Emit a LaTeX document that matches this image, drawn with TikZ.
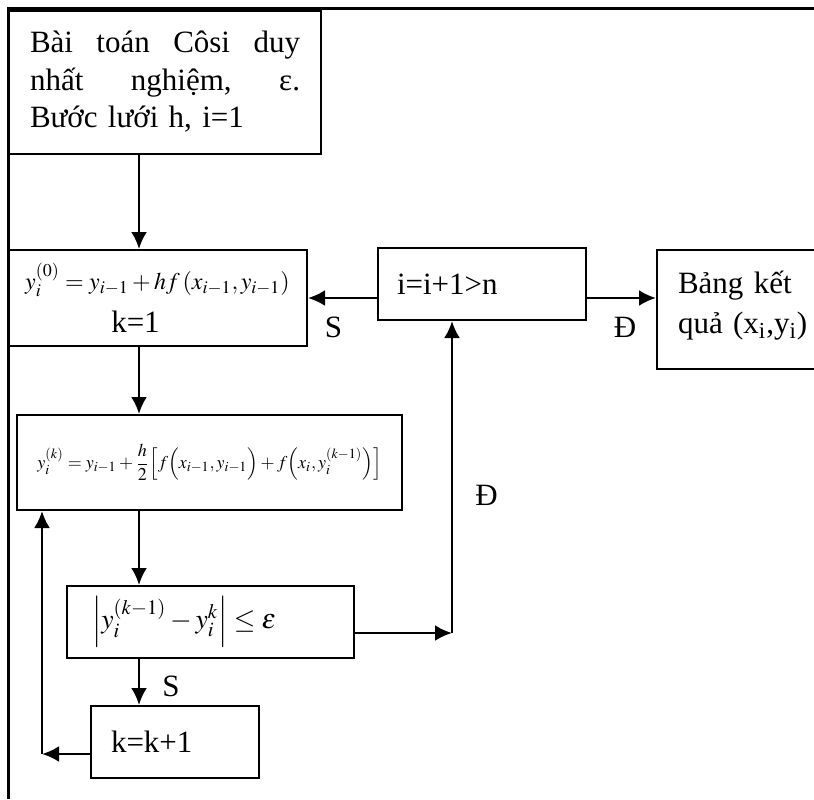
\documentclass[tikz,border=0pt]{standalone}
\usepackage{amsmath}
\usepackage{mathptmx}
\usepackage{fontspec}
\setmainfont{Liberation Serif}
\newfontfamily\vnfont{Liberation Serif}
\usetikzlibrary{arrows.meta}

\begin{document}
\begin{tikzpicture}[
        x=0.5pt, y=-0.5pt,
        >={Latex[length=8.5pt,width=8pt]},
        font=\vnfont\fontsize{15.5}{18.75}\selectfont,
        box/.style={
            draw,
            line width=1pt,
            inner sep=0pt,
            align=left
        },
        link/.style={->, line width=1.35pt},
        tag/.style={inner sep=1pt}
    ]
        \useasboundingbox (0,0) rectangle (814,799);
        % khung bang
        \draw[line width=1.5pt] (8,799) -- (8,8) -- (814,8);

        \node[box, minimum width=156pt, minimum height=71.5pt, text width=135pt] (start) at (165,82)
            {Bài\hfill toán\hfill Côsi\hfill duy\\ nhất\hfill nghiệm,\hfill ε.\\ Bước lưới h, i=1};
        \node[box, align=center, minimum width=149.5pt, minimum height=48pt] (init) at (157.5,298)
            {{\fontsize{12}{14}\selectfont$y_i^{(0)} = y_{i-1} + hf\left(x_{i-1}, y_{i-1}\right)$}\\[3pt] k=1\hspace*{22pt}};
        \node[box, align=center, minimum width=192.5pt, minimum height=47.5pt, font=\fontsize{9}{11}\selectfont] (corr) at (209.5,462.5)
            {$y_i^{(k)} = y_{i-1} + \dfrac{h}{2}\Bigl[f\Bigl(x_{i-1}, y_{i-1}\Bigr) + f\Bigl(x_i, y_i^{(k-1)}\Bigr)\Bigr]$};
        \node[box, minimum width=143.5pt, minimum height=36pt, text width=118.5pt, font=\fontsize{13.9}{16}\selectfont] (check) at (210.5,622)
            {$\left|y_i^{(k-1)} - y_i^{k}\right| \le \varepsilon$};
        \node[box, minimum width=84pt, minimum height=36pt, text width=64pt] (next) at (175,742)
            {k=k+1};
        \node[box, minimum width=104pt, minimum height=36pt, text width=85pt] (step) at (482,284)
            {i=i+1>n};
        \node[box, minimum width=87.5pt, minimum height=59.5pt, text width=66.5pt] (result) at (744.5,309.5)
            {Bảng kết\\[1.25pt] quả (x\textsubscript{i},y\textsubscript{i})\\[-12pt]\mbox{}};

        \coordinate (spine) at (139,0);
        \coordinate (back) at (42,754);
        \coordinate (join) at (452,633);
        \coordinate (row) at (0,298);

        \draw[link] (start.south -| spine) -- (init.north -| spine);
        \draw[link] (init.south -| spine) -- (corr.north -| spine);
        \draw[link] (corr.south -| spine) -- (check.north -| spine);
        \draw[link] (check.south -| spine) -- (next.north -| spine) node[tag, pos=0.6, right=10pt] {S};
        \draw[link] (next.west |- back) -- (back);
        \draw[link] (back) -- (corr.south -| back);
        \draw[link] (check.east |- join) -- (join);
        \draw[link] (join) -- (step.south -| join) node[tag, pos=0.44, right=10pt] {Đ};
        \draw[link] (step.west |- row) -- (init.east |- row) node[tag, pos=0.63, below=8pt] {S};
        \draw[link] (step.east |- row) -- (result.west |- row) node[tag, pos=0.55, below=8pt] {Đ};
    \end{tikzpicture}
\end{document}
